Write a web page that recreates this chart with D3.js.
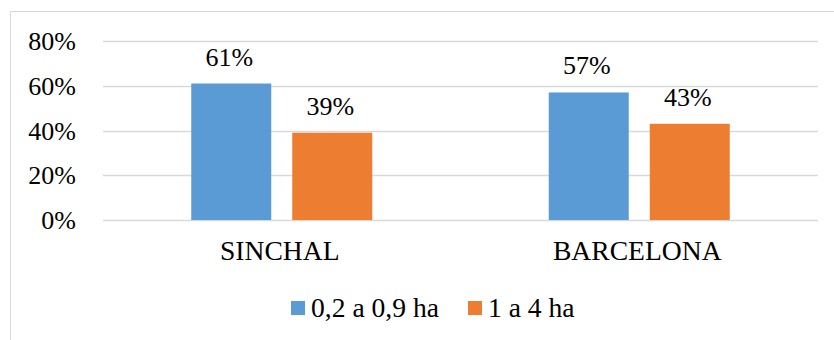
<!DOCTYPE html>
<html>
<head>
<meta charset="utf-8">
<script src="https://cdn.jsdelivr.net/npm/d3@7"></script>
<style>
  body { margin: 0; background: #fff; }
</style>
</head>
<body>
<div class="chart"></div>
<script>
// datos
const categories = ["SINCHAL", "BARCELONA"];
const seriesNames = ["0,2 a 0,9 ha", "1 a 4 ha"];
const seriesValues = [
  [0.61, 0.57],   // 0,2 a 0,9 ha
  [0.39, 0.43]    // 1 a 4 ha
];
const yTicks = [0, 0.2, 0.4, 0.6, 0.8];
const colors = ["#5b9bd5", "#ed7d31"];

const W = 834, H = 340;
const margin = { top: 41, right: 16, bottom: 120, left: 103 };
const numSize = 26, txtSize = 27.6;
const fontFam = "'Liberation Serif', 'Times New Roman', Times, 'DejaVu Serif', serif";

const svg = d3.select(".chart").append("svg")
  .attr("width", W)
  .attr("height", H)
  .attr("font-family", fontFam)
  .style("font-family", fontFam);

// marco del area
svg.append("rect")
  .attr("x", 10.5).attr("y", 11.5)
  .attr("width", W + 10).attr("height", H + 10)
  .attr("fill", "none")
  .attr("stroke", "#d9d9d9")
  .attr("stroke-width", 1);

const x0 = d3.scaleBand()
  .domain(categories)
  .range([margin.left, W - margin.right])
  .paddingInner(0)
  .paddingOuter(0);

const y = d3.scaleLinear()
  .domain([0, 0.8])
  .range([220, 41]);

const barW = 80, gap = 21;

// lineas de cuadricula
svg.append("g")
  .selectAll("line")
  .data(yTicks)
  .join("line")
    .attr("x1", margin.left)
    .attr("x2", W - margin.right)
    .attr("y1", d => Math.round(y(d)) + 0.5)
    .attr("y2", d => Math.round(y(d)) + 0.5)
    .attr("stroke", "#d9d9d9")
    .attr("stroke-width", 1.5);

// etiquetas eje y
svg.append("g")
  .selectAll("text")
  .data(yTicks)
  .join("text")
    .attr("x", 76)
    .attr("y", d => y(d) + 9)
    .attr("text-anchor", "end")
    .style("font-size", numSize + "px")
    .text(d => d3.format(".0%")(d));

// barras
const rows = [];
categories.forEach((c, ci) => {
  seriesValues.forEach((vals, si) => {
    rows.push({ cat: c, s: si, v: vals[ci] });
  });
});

const barX = d => {
  const center = x0(d.cat) + x0.bandwidth() / 2;
  return d.s === 0 ? center - gap / 2 - barW : center + gap / 2;
};

svg.append("g")
  .selectAll("rect")
  .data(rows)
  .join("rect")
    .attr("x", barX)
    .attr("y", d => y(d.v))
    .attr("width", barW)
    .attr("height", d => y(0) - y(d.v))
    .attr("fill", d => colors[d.s]);

// etiquetas de datos
svg.append("g")
  .selectAll("text")
  .data(rows)
  .join("text")
    .attr("x", d => barX(d) + barW / 2 - 2)
    .attr("y", d => y(d.v) - 18)
    .attr("text-anchor", "middle")
    .style("font-size", numSize + "px")
    .text(d => Math.round(d.v * 100) + "%");

// etiquetas de categorias
svg.append("g")
  .selectAll("text")
  .data(categories)
  .join("text")
    .attr("x", d => x0(d) + x0.bandwidth() / 2 - 2)
    .attr("y", 260)
    .attr("text-anchor", "middle")
    .style("font-size", txtSize + "px")
    .text(d => d);

// leyenda
const legendX = [291, 468];
const legend = svg.append("g")
  .selectAll("g")
  .data(seriesNames)
  .join("g")
    .attr("transform", (d, i) => `translate(${legendX[i]}, 301)`);

legend.append("rect")
  .attr("width", 14).attr("height", 14)
  .attr("fill", (d, i) => colors[i]);

legend.append("text")
  .attr("x", 20)
  .attr("y", 16)
  .style("font-size", txtSize + "px")
  .text(d => d);
</script>
</body>
</html>
